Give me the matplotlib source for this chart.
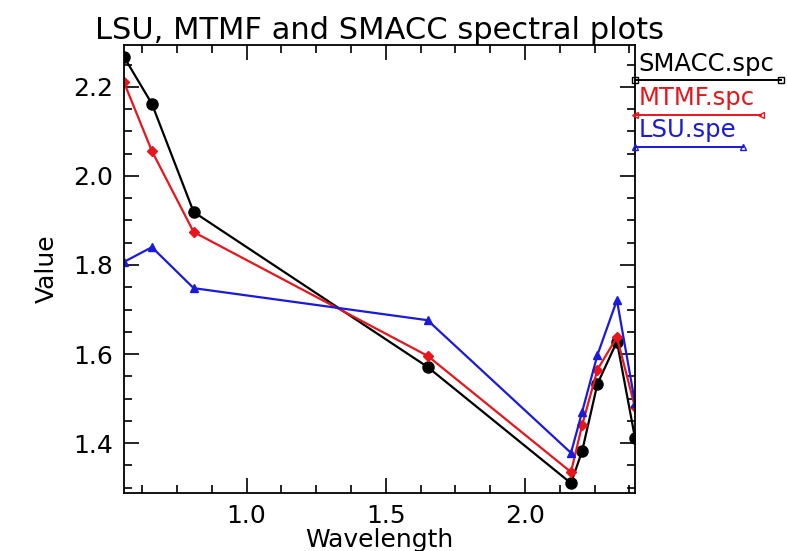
import matplotlib
matplotlib.use("Agg")
import matplotlib.pyplot as plt
from matplotlib.ticker import MultipleLocator

# ASTER band centres (micrometres)
wavelength = [0.56, 0.66, 0.81, 1.65, 2.165, 2.205, 2.26, 2.33, 2.395]

smacc = [2.267, 2.162, 1.919, 1.571, 1.310, 1.382, 1.533, 1.628, 1.411]
mtmf = [2.210, 2.056, 1.874, 1.596, 1.335, 1.440, 1.565, 1.638, 1.480]
lsu = [1.807, 1.840, 1.748, 1.676, 1.378, 1.470, 1.598, 1.721, 1.490]

names = ["SMACC.spc", "MTMF.spc", "LSU.spe"]
colors = ["black", "#e8161c", "#1a1adc"]
markers = ["o", "D", "^"]
leg_markers = ["s", "<", "^"]

fig = plt.figure(figsize=(7.87, 5.51), dpi=100)
ax = fig.add_axes([0.1576, 0.1053, 0.6493, 0.8130])

series = [smacc, mtmf, lsu]
sizes = [8, 5, 6]
for vals, c, m, s in zip(series, colors, markers, sizes):
    ax.plot(wavelength, vals, color=c, lw=1.6, marker=m, ms=s,
            mec=c, mfc=c, clip_on=True)

ax.set_xlim(0.56, 2.395)
ax.set_ylim(1.288, 2.294)
ax.xaxis.set_major_locator(MultipleLocator(0.5))
ax.xaxis.set_minor_locator(MultipleLocator(0.125))
ax.yaxis.set_major_locator(MultipleLocator(0.2))
ax.yaxis.set_minor_locator(MultipleLocator(0.05))
ax.tick_params(which="both", direction="in", top=True, right=True,
               width=1.2, labelsize=18, pad=8)
ax.tick_params(which="major", length=11)
ax.tick_params(which="minor", length=6)
for sp in ax.spines.values():
    sp.set_linewidth(1.3)

ax.set_xlabel("Wavelength", fontsize=18, labelpad=0)
ax.set_ylabel("Value", fontsize=18, labelpad=10)
ax.set_title("LSU, MTMF and SMACC spectral plots", fontsize=22, pad=3)

# IDL-style legend: text with a line underneath, outside the plot box
fig.canvas.draw()
renderer = fig.canvas.get_renderer()
x0 = 0.807
ys = [0.862, 0.800, 0.742]
for name, c, m, y in zip(names, colors, leg_markers, ys):
    t = fig.text(x0 + 0.004, y, name, color=c, fontsize=17.5,
                 ha="left", va="bottom")
    bb = t.get_window_extent(renderer).transformed(fig.transFigure.inverted())
    ly = y - 0.008
    fig.add_artist(plt.Line2D([x0, bb.x1 + 0.009], [ly, ly], color=c, lw=1.4,
                              marker=m, ms=5, mfc="none", mec=c,
                              transform=fig.transFigure))

fig.savefig("out.png", dpi=100)
